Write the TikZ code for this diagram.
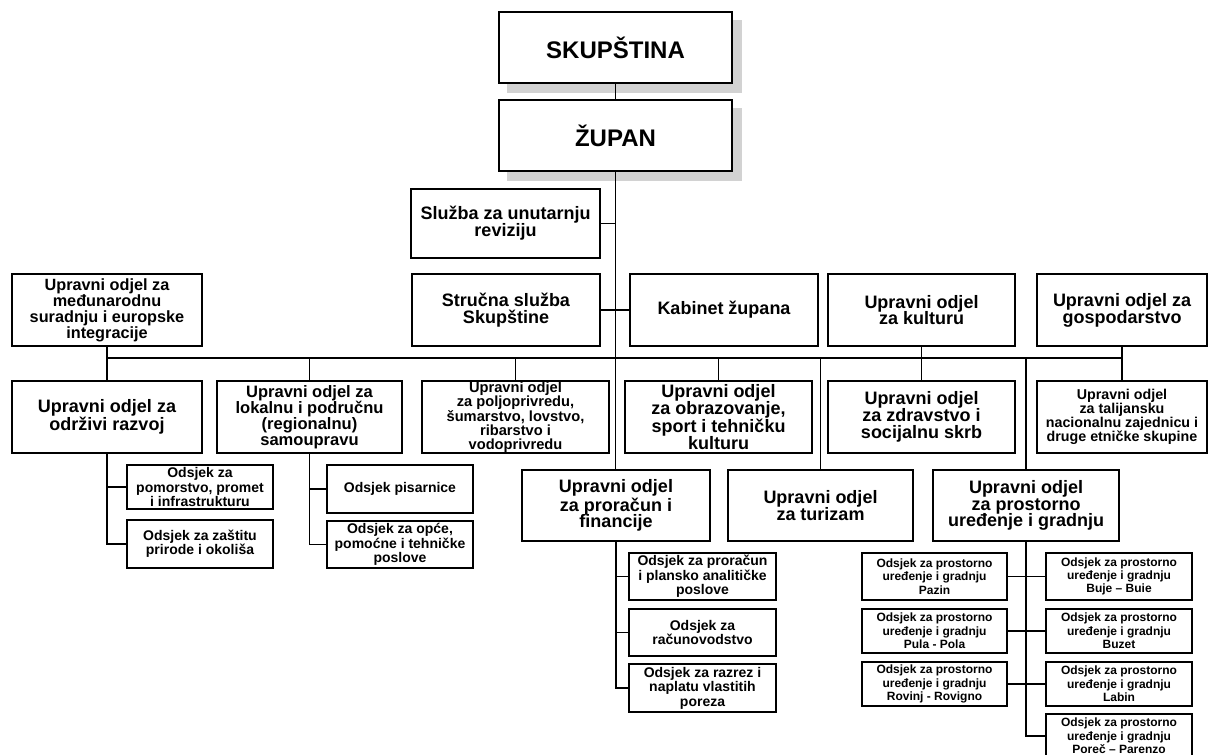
\documentclass[tikz,border=0pt]{standalone}
\usepackage{fontspec}
\setmainfont{Liberation Sans}
\usetikzlibrary{calc}
\usetikzlibrary{backgrounds}

\tikzset{
  sz/.style 2 args={minimum width=#1*0.75pt, minimum height=#2*0.75pt},
  vrh/.style={draw, line width=2.2pt, fill=white, inner sep=0pt, font=\fontsize{18}{20}\selectfont\bfseries},
  odjel/.style={draw, line width=2pt, fill=white, inner sep=0pt, align=center, font=\fontsize{13.5}{12.6}\selectfont\bfseries},
  odsjek/.style={draw, line width=1.1pt, fill=white, inner sep=0pt, align=center, font=\fontsize{10.5}{10.8}\selectfont\bfseries},
  ispostava/.style={odsjek, font=\fontsize{9}{10}\selectfont\bfseries},
  veza/.style={line width=0.8pt},
}

\begin{document}
\begin{tikzpicture}[x=0.75pt,y=0.75pt,yscale=-1,xscale=1]
  \useasboundingbox (0,0) rectangle (1209,754); %whole page, 1209 x 754
  \coordinate (sabirnica) at (0,358);

  % Vrh
  \node[vrh, sz={233}{71}] (skupstina) at (615.5,47.5) {SKUPŠTINA};
  \node[vrh, sz={233}{71}] (zupan) at (615.5,135.5) {ŽUPAN};
  \node[odjel, sz={189}{69}] (revizija) at (505.5,223.5) {Služba za unutarnju\\reviziju};

  % Prvi red
  \node[odjel, sz={190}{72}, font=\fontsize{12.2}{12}\selectfont\bfseries] (medjunarodni) at (107,310) {Upravni odjel za\\međunarodnu\\suradnju i europske\\integracije};
  \node[odjel, sz={188}{72}] (strucna) at (506,310) {Stručna služba\\Skupštine};
  \node[odjel, sz={188}{72}] (kabinet) at (724,310) {Kabinet župana};
  \node[odjel, sz={187}{72}] (kultura) at (921.5,310) {Upravni odjel\\za kulturu};
  \node[odjel, sz={170}{72}] (gospodarstvo) at (1122,310) {Upravni odjel za\\gospodarstvo};

  % Drugi red
  \node[odjel, sz={190}{72}] (odrzivi) at (107,417) {Upravni odjel za\\održivi razvoj};
  \node[odjel, sz={185}{72}, font=\fontsize{12.4}{12}\selectfont\bfseries] (lokalna) at (309.5,417) {Upravni odjel za\\lokalnu i područnu\\(regionalnu)\\samoupravu};
  \node[odjel, sz={187}{72}, font=\fontsize{11}{10.3}\selectfont\bfseries] (poljo) at (515.5,417) {Upravni odjel\\za poljoprivredu,\\šumarstvo, lovstvo,\\ribarstvo i\\vodoprivredu};
  \node[odjel, sz={187}{72}] (obrazovanje) at (718.5,417) {Upravni odjel\\za obrazovanje,\\sport i tehničku\\kulturu};
  \node[odjel, sz={187}{72}] (zdravstvo) at (921.5,417) {Upravni odjel\\za zdravstvo i\\socijalnu skrb};
  \node[odjel, sz={170}{72}, font=\fontsize{10.7}{10.5}\selectfont\bfseries] (talijanska) at (1122,417) {Upravni odjel\\za talijansku\\nacionalnu zajednicu i\\druge etničke skupine};

  % Treci red
  \node[odjel, sz={188}{71}] (proracun) at (616,505.5) {Upravni odjel\\za proračun i\\financije};
  \node[odjel, sz={185}{71}] (turizam) at (820.5,505.5) {Upravni odjel\\za turizam};
  \node[odjel, sz={186}{71}] (prostorno) at (1026,505.5) {Upravni odjel\\za prostorno\\uređenje i gradnju};

  % Odsjeci
  \node[odsjek, sz={146}{44}] (pomorstvo) at (200,487) {Odsjek za\\pomorstvo, promet\\i infrastrukturu};
  \node[odsjek, sz={146}{48}] (zastita) at (200,544) {Odsjek za zaštitu\\prirode i okoliša};
  \node[odsjek, sz={146}{48}] (pisarnica) at (400,489) {Odsjek pisarnice};
  \node[odsjek, sz={146}{47}] (opci) at (400,544.5) {Odsjek za opće,\\pomoćne i tehničke\\poslove};
  \node[odsjek, sz={147}{47}] (odsproracun) at (702.5,576.5) {Odsjek za proračun\\i plansko analitičke\\poslove};
  \node[odsjek, sz={147}{47}] (racunovodstvo) at (702.5,632.5) {Odsjek za\\računovodstvo};
  \node[odsjek, sz={147}{48}] (razrez) at (702.5,688) {Odsjek za razrez i\\naplatu vlastitih\\poreza};

  % Odsjeci za prostorno uredenje
  \node[ispostava, sz={145}{47}] (pazin) at (934.5,576.5) {Odsjek za prostorno\\uređenje i gradnju\\Pazin};
  \node[ispostava, sz={145}{44}] (pula) at (934.5,631) {Odsjek za prostorno\\uređenje i gradnju\\Pula - Pola};
  \node[ispostava, sz={145}{44}] (rovinj) at (934.5,684) {Odsjek za prostorno\\uređenje i gradnju\\Rovinj - Rovigno};
  \node[ispostava, sz={146}{47}] (buje) at (1119,576.5) {Odsjek za prostorno\\uređenje i gradnju\\Buje – Buie};
  \node[ispostava, sz={146}{44}] (buzet) at (1119,631) {Odsjek za prostorno\\uređenje i gradnju\\Buzet};
  \node[ispostava, sz={146}{44}] (labin) at (1119,684) {Odsjek za prostorno\\uređenje i gradnju\\Labin};
  \node[ispostava, sz={146}{44}] (porec) at (1119,736) {Odsjek za prostorno\\uređenje i gradnju\\Poreč – Parenzo};

  % Veze
  \draw[veza] (skupstina.south) -- (zupan.north);
  \draw[veza] (zupan.south) -- (zupan.south |- proracun.north);
  \draw[veza] (revizija.east) -- (revizija.east -| zupan.south);
  \draw[veza] (strucna.east) -- (kabinet.west);
  \draw[veza] (medjunarodni.south |- sabirnica) -- (gospodarstvo.south |- sabirnica);
  \draw[veza] (medjunarodni.south) -- (odrzivi.north);
  \draw[veza] (lokalna.north |- sabirnica) -- (lokalna.north);
  \draw[veza] (poljo.north |- sabirnica) -- (poljo.north);
  \draw[veza] (obrazovanje.north |- sabirnica) -- (obrazovanje.north);
  \draw[veza] (kultura.south) -- (zdravstvo.north);
  \draw[veza] (gospodarstvo.south) -- (talijanska.north);
  \draw[veza] (turizam.north |- sabirnica) -- (turizam.north);
  \draw[veza] (prostorno.north |- sabirnica) -- (prostorno.north);

  \draw[veza] (odrzivi.south) |- (zastita.west);
  \draw[veza] (odrzivi.south |- pomorstvo.west) -- (pomorstvo.west);
  \draw[veza] (lokalna.south) |- (opci.west);
  \draw[veza] (lokalna.south |- pisarnica.west) -- (pisarnica.west);
  \draw[veza] (proracun.south) |- (razrez.west);
  \draw[veza] (proracun.south |- odsproracun.west) -- (odsproracun.west);
  \draw[veza] (proracun.south |- racunovodstvo.west) -- (racunovodstvo.west);
  \draw[veza] (prostorno.south) |- (porec.west);
  \draw[veza] (pazin.east) -- (buje.west);
  \draw[veza] (pula.east) -- (buzet.west);
  \draw[veza] (rovinj.east) -- (labin.west);

  % sjene
  \begin{scope}[on background layer]
    \fill[white] (0,0) rectangle (1209,754);
    \fill[gray!35] ($(skupstina.south west)+(9,9)$) rectangle ($(skupstina.north east)+(9,9)$);
    \fill[gray!35] ($(zupan.south west)+(9,9)$) rectangle ($(zupan.north east)+(9,9)$);
  \end{scope}
\end{tikzpicture}
\end{document}
